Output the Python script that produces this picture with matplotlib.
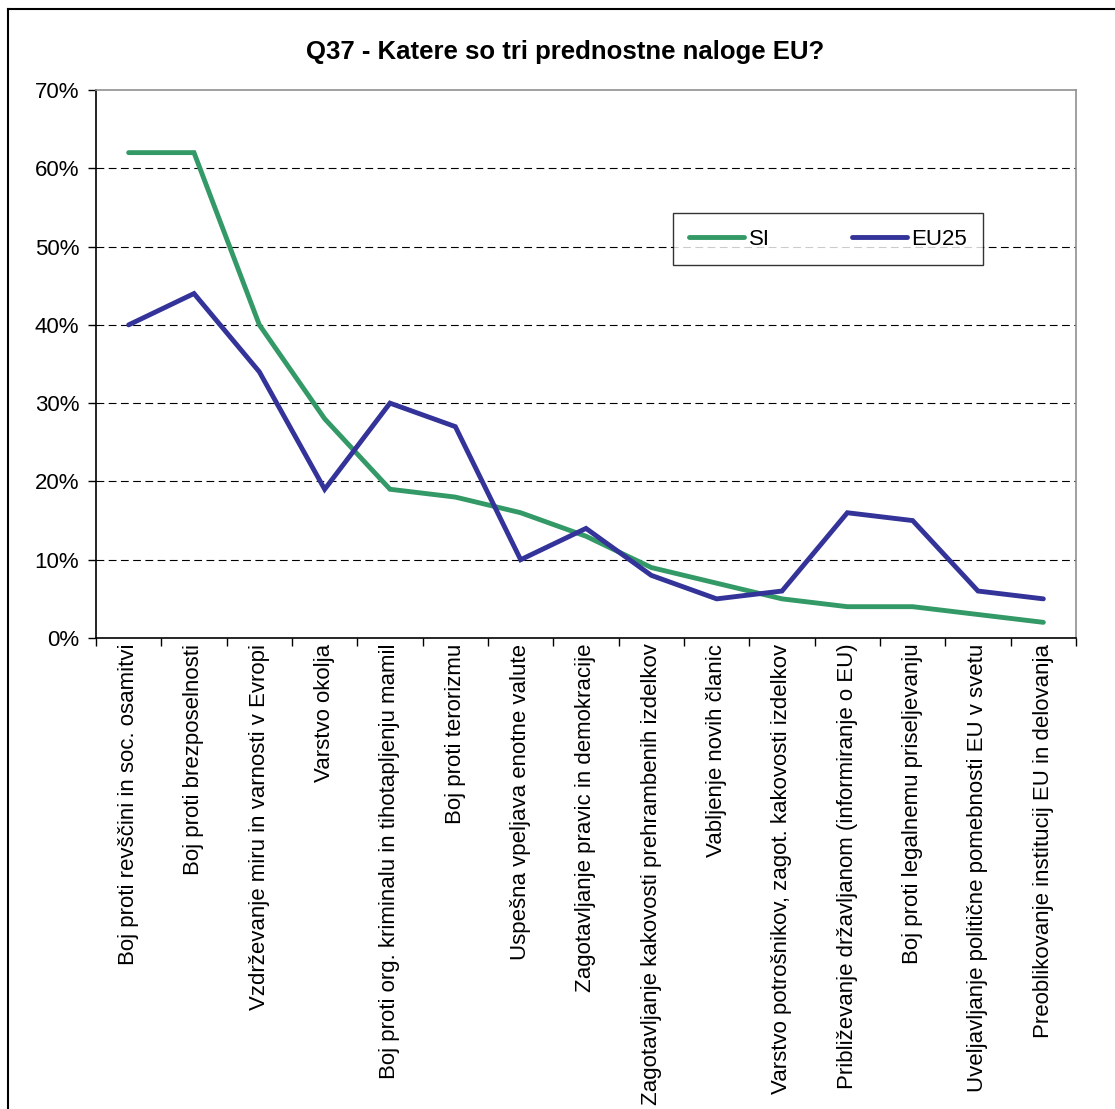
import matplotlib.pyplot as plt
from matplotlib.lines import Line2D

plt.rcParams['font.family'] = ['Liberation Sans', 'DejaVu Sans']

categories = [
    'Boj proti revščini in soc. osamitvi',
    'Boj proti brezposelnosti',
    'Vzdrževanje miru in varnosti v Evropi',
    'Varstvo okolja',
    'Boj proti org. kriminalu in tihotapljenju mamil',
    'Boj proti terorizmu',
    'Uspešna vpeljava enotne valute',
    'Zagotavljanje pravic in demokracije',
    'Zagotavljanje kakovosti prehrambenih izdelkov',
    'Vabljenje novih članic',
    'Varstvo potrošnikov, zagot. kakovosti izdelkov',
    'Približevanje državljanom (informiranje o EU)',
    'Boj proti legalnemu priseljevanju',
    'Uveljavljanje politične pomebnosti EU v svetu',
    'Preoblikovanje institucij EU in delovanja',
]
si = [62, 62, 40, 28, 19, 18, 16, 13, 9, 7, 5, 4, 4, 3, 2]
eu25 = [40, 44, 34, 19, 30, 27, 10, 14, 8, 5, 6, 16, 15, 6, 5]
y_ticks = [0, 10, 20, 30, 40, 50, 60, 70]

fig = plt.figure(figsize=(11.15, 11.09), dpi=100)
ax = fig.add_axes([96 / 1115, 1 - 638 / 1109, 980 / 1115, 548 / 1109])

x = list(range(len(categories)))
ax.plot(x, si, color='#339966', lw=3.5, label='SI', solid_capstyle='round', solid_joinstyle='miter')
ax.plot(x, eu25, color='#333399', lw=3.5, label='EU25', solid_capstyle='round', solid_joinstyle='miter')

ax.set_xlim(-0.5, len(categories) - 0.5)
ax.set_ylim(0, 70)
ax.set_yticks(y_ticks)
ax.set_yticklabels([f'{v}%' for v in y_ticks], fontsize=16)
ax.set_xticks(x)
ax.set_xticklabels(categories, rotation=90, fontsize=16, va='top', ha='center')
ax.set_xticks([i - 0.5 for i in range(len(categories) + 1)], minor=True)
ax.tick_params(axis='x', which='major', length=0, pad=4)
ax.tick_params(axis='x', which='minor', length=6, direction='out', width=1)
ax.tick_params(axis='y', length=6, direction='out', width=1, pad=6)

for v in y_ticks[1:-1]:
    ax.axhline(v, color='black', lw=0.8, ls=(0, (7, 4)), zorder=0)

ax.spines['left'].set_color('black')
ax.spines['bottom'].set_color('black')
ax.spines['top'].set_color('#909090')
ax.spines['right'].set_color('#909090')
for s in ax.spines.values():
    s.set_linewidth(1.2)

leg = ax.legend(loc='center', ncol=2, bbox_to_anchor=(0.589, 0.679, 0.316, 0.097),
                mode='expand', borderaxespad=0, fontsize=16, frameon=True, fancybox=False,
                handlelength=2.5, columnspacing=2.6, borderpad=0.7, handletextpad=0.2)
leg.get_frame().set_edgecolor('black')
leg.get_frame().set_linewidth(1.0)

fig.text(565 / 1115, 1 - 52 / 1109, 'Q37 - Katere so tri prednostne naloge EU?',
         ha='center', va='center', fontsize=18.5, fontweight='bold')

# outer chart border (left and top only visible)
fig.add_artist(Line2D([8 / 1115, 8 / 1115], [0, 1 - 9 / 1109], transform=fig.transFigure, color='black', lw=1.5))
fig.add_artist(Line2D([8 / 1115, 1], [1 - 9 / 1109, 1 - 9 / 1109], transform=fig.transFigure, color='black', lw=1.5))

fig.savefig('out.png', dpi=100)
